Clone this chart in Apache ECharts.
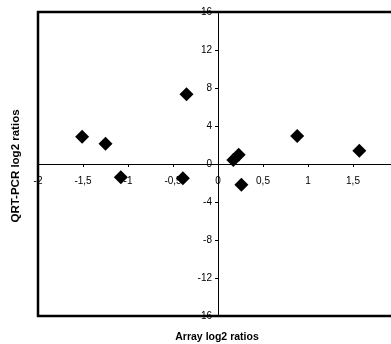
<!DOCTYPE html>
<html>
<head>
<meta charset="utf-8">
<script src="https://cdn.jsdelivr.net/npm/echarts@6/dist/echarts.min.js"></script>
<style>
  html, body { margin: 0; padding: 0; background: #fff; }
  #chart { width: 391px; height: 344px; }
</style>
</head>
<body>
<div id="chart"></div>
<script>
// array vs QRT-PCR log2 ratios
var arrayRatios = [-1.51, -1.25, -1.08, -0.39, -0.35, 0.17, 0.23, 0.26, 0.88, 1.57];
var pcrRatios   = [2.87, 2.14, -1.40, -1.51, 7.33, 0.42, 0.98, -2.18, 2.95, 1.40];
var xTitle = 'Array log2 ratios';
var yTitle = 'QRT-PCR log2 ratios';

var points = arrayRatios.map(function (x, i) { return [x, pcrRatios[i]]; });

var font = 'Liberation Sans, Arial, sans-serif';
var myChart = echarts.init(document.getElementById('chart'), null, { renderer: 'canvas' });

myChart.setOption({
  animation: false,
  grid: {  // plot box, runs off the right edge
    left: 38,
    top: 12,
    right: -7,
    bottom: 28,
    outerBoundsMode: 'none',
    containLabel: false,
    show: true,
    borderColor: '#000',
    borderWidth: 2.5,
    backgroundColor: 'transparent'
  },
  xAxis: {
    type: 'value',
    min: -2,
    max: 2,
    interval: 0.5,
    offset: -152,  // move axis up to y = 0
    axisLine: { onZero: false, lineStyle: { color: '#000', width: 1 } },
    axisTick: { show: true, length: 3, lineStyle: { color: '#000' } },
    splitLine: { show: false },
    axisLabel: {
      margin: 12,
      color: '#000',
      fontSize: 10,
      fontFamily: font,
      formatter: function (v) { return String(v).replace('.', ','); }
    }
  },
  yAxis: {
    type: 'value',
    min: -16,
    max: 16,
    interval: 4,
    offset: -180,  // move axis right to x = 0
    axisLine: { onZero: false, lineStyle: { color: '#000', width: 1 } },
    axisTick: { show: true, length: 3, lineStyle: { color: '#000' } },
    splitLine: { show: false },
    axisLabel: {
      margin: 6,
      color: '#000',
      fontSize: 10,
      fontFamily: font
    }
  },
  graphic: [
    {
      type: 'text',
      x: 217,
      y: 337,
      style: {
        text: xTitle,
        font: 'bold 10.5px ' + font,
        fill: '#000',
        align: 'center',
        verticalAlign: 'middle'
      }
    },
    {
      type: 'text',
      x: 16,
      y: 166,
      rotation: Math.PI / 2,
      style: {
        text: yTitle,
        font: 'bold 11.5px ' + font,
        fill: '#000',
        align: 'center',
        verticalAlign: 'middle'
      }
    }
  ],
  series: [
    {
      type: 'scatter',
      symbol: 'diamond',
      symbolSize: 14,
      itemStyle: { color: '#000', opacity: 1 },
      data: points
    }
  ]
});
</script>
</body>
</html>
